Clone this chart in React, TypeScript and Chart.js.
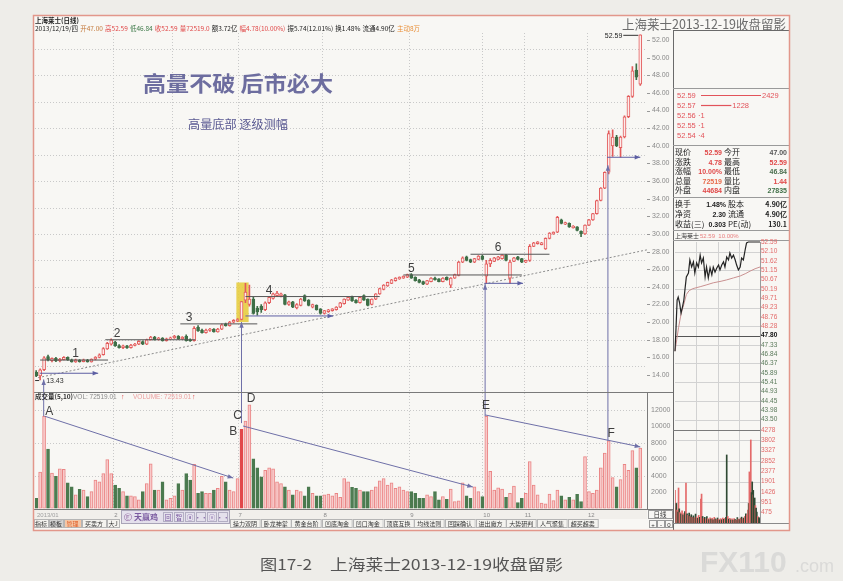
import React, { useEffect, useRef } from 'react';
import { Chart, registerables } from 'chart.js';

Chart.register(...registerables);

const CJK = '"Noto Sans CJK SC", "Noto Sans", sans-serif';
const LAT = '"Liberation Sans", Arial, sans-serif';

// ---------------- daily candles (Shanghai RAAS) ----------------
const openP = [
  14.30, 13.90, 14.60, 16.10, 15.62, 15.90, 15.60, 15.75, 16.00, 15.72,
  15.50, 15.70, 15.52, 15.70, 15.50, 15.80, 16.00, 16.30, 16.95, 17.50,
  17.75, 17.35, 17.10, 17.30, 17.10, 17.35, 17.50, 17.80, 17.50, 18.00,
  18.30, 18.00, 18.20, 17.90, 18.10, 18.20, 18.40, 18.10, 18.40, 18.00,
  17.90, 19.40, 19.10, 18.80, 19.05, 19.20, 18.90, 19.20, 19.80, 19.60,
  20.00, 20.15, 20.30, 22.50, 22.00, 22.60, 21.60, 21.80, 21.40, 22.20,
  22.70, 23.00, 23.00, 23.10, 22.00, 22.30, 21.60, 21.90, 23.00, 22.50,
  21.70, 21.90, 21.50, 21.00, 21.20, 21.30, 21.40, 21.70, 22.10, 22.50,
  22.90, 22.50, 22.20, 23.00, 22.60, 22.00, 22.60, 23.20, 23.70, 24.10,
  24.40, 24.70, 24.90, 25.00, 25.10, 25.40, 25.10, 24.80, 24.60, 24.30,
  24.60, 25.00, 24.90, 24.60, 25.10, 24.20, 25.00, 25.30, 26.80, 27.40,
  27.10, 26.80, 27.10, 27.50, 25.20, 26.60, 26.90, 27.10, 27.20, 27.60,
  25.00, 26.90, 27.40, 27.20, 26.80, 27.00, 28.60, 28.90, 28.80, 28.30,
  29.50, 30.00, 30.20, 31.60, 31.10, 31.20, 30.70, 30.80, 30.30, 30.00,
  31.00, 31.60, 32.30, 33.80, 35.20, 37.00, 40.00, 41.00, 39.80, 41.00,
  43.30, 45.60, 48.60, 47.00,
];
const highP = [
  14.50, 14.70, 16.10, 16.25, 15.95, 16.00, 15.90, 16.10, 16.05, 15.80,
  15.80, 15.75, 15.80, 15.78, 15.85, 16.10, 16.40, 17.10, 17.70, 18.10,
  17.85, 17.45, 17.40, 17.38, 17.48, 17.60, 17.90, 17.88, 18.08, 18.40,
  18.38, 18.28, 18.25, 18.20, 18.30, 18.50, 18.48, 18.35, 18.55, 18.10,
  19.50, 19.60, 19.20, 19.20, 19.30, 19.28, 19.30, 19.80, 19.90, 20.10,
  20.30, 20.40, 22.33, 24.40, 24.20, 22.80, 21.80, 22.00, 22.30, 22.90,
  23.30, 23.50, 23.30, 23.15, 22.40, 22.35, 22.10, 22.70, 23.10, 22.55,
  22.05, 21.95, 21.55, 21.35, 21.45, 21.55, 21.75, 22.25, 22.65, 22.85,
  22.95, 22.55, 22.85, 23.10, 22.65, 22.65, 23.25, 23.85, 24.25, 24.55,
  24.85, 25.05, 25.15, 25.25, 25.45, 25.50, 25.15, 24.85, 24.65, 24.75,
  25.05, 25.10, 24.95, 25.05, 25.15, 25.05, 25.45, 26.90, 27.40, 27.50,
  27.15, 27.25, 27.55, 27.60, 27.00, 27.20, 27.35, 27.45, 27.65, 27.70,
  27.05, 27.35, 27.45, 27.25, 27.05, 28.80, 29.05, 29.15, 29.05, 29.55,
  30.15, 30.25, 32.00, 31.70, 31.35, 31.25, 30.95, 30.85, 30.35, 31.05,
  31.65, 32.35, 33.85, 35.25, 37.05, 41.70, 41.80, 41.20, 41.10, 43.40,
  45.70, 49.00, 49.30, 52.59,
];
const lowP = [
  13.80, 13.43, 14.50, 15.60, 15.50, 15.52, 15.50, 15.70, 15.65, 15.45,
  15.42, 15.45, 15.48, 15.45, 15.45, 15.72, 15.95, 16.25, 16.90, 17.40,
  17.25, 17.05, 17.00, 17.02, 17.05, 17.30, 17.45, 17.45, 17.45, 17.95,
  17.95, 17.95, 17.85, 17.85, 18.05, 18.15, 18.05, 18.05, 17.85, 17.80,
  17.85, 18.95, 18.75, 18.75, 18.95, 18.85, 18.85, 19.15, 19.55, 19.55,
  19.90, 20.05, 20.25, 22.20, 21.80, 20.90, 20.80, 21.10, 21.30, 22.10,
  22.60, 22.90, 22.85, 21.95, 21.90, 21.65, 21.50, 21.85, 22.35, 21.85,
  21.60, 21.35, 20.90, 20.90, 21.10, 21.25, 21.35, 21.65, 22.05, 22.45,
  22.35, 22.15, 22.15, 22.45, 21.85, 21.95, 22.55, 23.15, 23.65, 24.05,
  24.35, 24.65, 24.85, 24.95, 25.05, 24.95, 24.65, 24.45, 24.25, 24.25,
  24.55, 24.75, 24.55, 24.55, 24.75, 23.90, 24.95, 25.25, 26.75, 26.95,
  26.75, 26.75, 27.05, 27.05, 24.40, 26.30, 26.85, 27.05, 27.15, 26.95,
  24.40, 26.85, 27.05, 26.75, 26.75, 26.90, 28.55, 28.85, 28.75, 28.25,
  29.45, 29.95, 30.15, 31.15, 31.05, 30.75, 30.65, 30.35, 29.70, 29.95,
  30.95, 31.55, 32.25, 33.75, 35.15, 36.80, 38.80, 39.90, 38.70, 40.90,
  43.20, 45.50, 47.50, 46.84,
];
const closeP = [
  13.90, 14.60, 15.95, 15.70, 15.88, 15.60, 15.80, 16.00, 15.70, 15.50,
  15.72, 15.52, 15.72, 15.50, 15.80, 16.02, 16.30, 17.00, 17.60, 17.95,
  17.30, 17.10, 17.32, 17.08, 17.40, 17.52, 17.82, 17.50, 18.00, 18.30,
  18.00, 18.20, 17.90, 18.10, 18.22, 18.42, 18.10, 18.30, 17.90, 17.88,
  19.30, 19.00, 18.80, 19.10, 19.22, 18.90, 19.20, 19.70, 19.60, 20.00,
  20.20, 20.30, 22.33, 23.40, 22.60, 21.00, 21.15, 21.40, 22.20, 22.80,
  23.20, 23.30, 23.20, 22.00, 22.30, 21.70, 22.00, 22.60, 22.40, 21.90,
  22.00, 21.40, 21.00, 21.30, 21.40, 21.50, 21.70, 22.20, 22.60, 22.80,
  22.40, 22.20, 22.80, 22.50, 21.90, 22.60, 23.20, 23.80, 24.20, 24.50,
  24.80, 25.00, 25.10, 25.20, 25.40, 25.00, 24.70, 24.50, 24.30, 24.70,
  25.00, 24.80, 24.60, 25.00, 24.80, 25.00, 25.40, 26.80, 27.30, 27.00,
  26.80, 27.20, 27.50, 27.10, 26.60, 27.00, 27.30, 27.40, 27.60, 27.00,
  26.80, 27.30, 27.10, 26.80, 27.00, 28.60, 29.00, 29.10, 29.00, 29.50,
  30.10, 30.20, 31.90, 31.20, 31.30, 30.80, 30.90, 30.40, 30.00, 31.00,
  31.60, 32.30, 33.80, 35.20, 37.00, 41.40, 41.00, 40.00, 41.00, 43.30,
  45.60, 48.50, 47.80, 52.59,
];
// volume in units of 10 lots (as on the axis)
const volume = [
  1240, 4440, 11240, 7240, 4320, 3920, 4840, 4760, 3120, 2640,
  1640, 2320, 2240, 1440, 2040, 3440, 3240, 4240, 5960, 4240,
  2840, 2440, 2040, 1520, 1520, 1440, 1040, 2040, 3040, 5440,
  2240, 2240, 3240, 1040, 1240, 1520, 3040, 2240, 4240, 3440,
  5360, 1840, 2040, 1840, 1840, 2240, 2440, 3920, 3240, 2240,
  2040, 3640, 9640, 10640, 12640, 6040, 4960, 3840, 4640, 4960,
  4840, 3240, 3040, 2640, 2240, 1640, 2240, 2040, 1520, 2640,
  1840, 1520, 1520, 1640, 1760, 1520, 1840, 1360, 3640, 3240,
  2560, 2440, 2240, 2040, 2040, 2240, 2640, 3360, 3640, 2840,
  3120, 2440, 2640, 2240, 2040, 2040, 1840, 1240, 1240, 1640,
  1440, 2040, 1040, 1440, 1120, 2360, 840, 920, 3120, 1520,
  1240, 2640, 2040, 1440, 11240, 4520, 2240, 2520, 2360, 1360,
  1840, 2720, 720, 1240, 1840, 5720, 2840, 1640, 640, 560,
  1760, 960, 2240, 1520, 1040, 1360, 1040, 1720, 840, 6320,
  2040, 1840, 2240, 4960, 6760, 8240, 3760, 2640, 3520, 5360,
  4640, 7040, 4960, 7360,
];
const solidVolumeIdx = [52];

const priceTicks = [52, 50, 48, 46, 44, 42, 40, 38, 36, 34, 32, 30, 28, 26, 24, 22, 20, 18, 16, 14];
const priceGrid = [51, 48, 45, 42, 39, 36, 33, 30, 27, 24, 21, 18, 15];
const volTicks = [12000, 10000, 8000, 6000, 4000, 2000];
const volGrid = [12000, 8000, 4000];
const monthIdx = [19.5, 34.5, 51, 72.5, 94.5, 113, 123.5, 139.5];
const monthLabels = ['2', '', '7', '8', '9', '10', '11', '12'];

// annotations (in data units)
const trendIdx = [0.5, 154.7];
const trendPrice = [13.7, 28.2];
const levelLabels = ['1', '2', '3', '4', '5', '6'];
const levelFrom = [1, 17.5, 36.5, 53, 93, 110];
const levelTo = [18.2, 40.3, 56, 87, 123, 130];
const levelPrice = [15.7, 18.0, 19.8, 22.9, 25.35, 27.7];
const levelLabelIdx = [10, 20.5, 38.7, 59, 95, 117];
const supFrom = [1, 53, 113.5, 144.6];
const supTo = [15.7, 75.2, 123.3, 153];
const supPrice = [14.2, 20.7, 24.4, 38.7];
const riseIdx = [1.9, 52, 113.7, 144.8];
const riseVol = [11240, 10400, 11240, 8240];
const risePrice = [13.5, 20.0, 24.3, 37.8];
const vArrowFromIdx = [2.2, 52.4, 113.7];
const vArrowFromVol = [11240, 10048, 11400];
const vArrowToIdx = [49.9, 110.6, 153];
const vArrowToVol = [3707, 2610, 7500];
const volLetters = ['A', 'B', 'C', 'D', 'E', 'F'];
const volLetterIdx = [3.3, 49.9, 51, 54.4, 113.9, 145.6];
const volLetterVol = [11756, 9317, 11268, 13340, 12490, 9073];
const boxIdx = [50.7, 53.8];
const boxPrice = [20.0, 24.5];

// ---------------- intraday 2013-12-19 ----------------
const dayT = [0, 3, 6, 9, 13, 17, 21, 25, 28, 32, 38, 42, 47, 52, 56, 61, 66, 71, 75, 80,
  85, 89, 94, 99, 104, 108, 113, 118, 123, 127, 132, 137, 141, 146, 151, 155, 160, 165, 170, 174,
  179, 184, 188, 193, 198, 202, 207, 220, 240];
const dayP = [47.00, 48.24, 49.62, 49.77, 49.47, 48.95, 49.26, 49.62, 50.13, 50.80,
  51.00, 51.67, 51.31, 51.57, 51.00, 51.52, 51.31, 51.92, 51.52, 51.77,
  50.80, 51.31, 50.75, 51.26, 50.90, 51.31, 51.05, 51.26, 51.41, 51.16,
  51.41, 51.57, 51.31, 51.82, 51.67, 52.03, 51.77, 51.92, 51.67, 51.41,
  51.16, 51.31, 51.77, 51.67, 52.18, 52.54, 52.59, 52.59, 52.59];
const avgT = [0, 5, 10, 15, 20, 25, 32, 40, 50, 71, 90, 108, 130, 146, 165, 184, 200, 212, 226, 240];
const avgP = [47.0, 47.6, 48.2, 48.7, 49.1, 49.4, 49.9, 50.1, 50.2, 50.3, 50.4, 50.5, 50.58, 50.65, 50.75, 50.85, 50.98, 51.1, 51.22, 51.31];
const dayVolT = [0, 2, 4, 6, 8, 10, 12, 14, 17, 20, 23, 26, 28, 31, 34, 37, 40, 43, 46, 49,
  52, 55, 58, 61, 64, 67, 70, 73, 75, 78, 81, 84, 87, 90, 93, 96, 99, 102, 105, 108,
  111, 114, 117, 120, 123, 126, 129, 132, 135, 138, 141, 144, 146, 149, 152, 155, 158, 161, 164, 167,
  170, 173, 176, 179, 182, 185, 188, 191, 194, 197, 200, 203, 206, 208, 210, 212, 214, 216, 218, 220,
  221, 223, 225, 227, 229, 231, 234, 237, 239];
const dayVol = [1500, 700, 900, 600, 500, 1610, 650, 480, 420, 560, 380, 450, 520, 1840, 420, 350, 460, 300, 380, 260,
  330, 240, 410, 280, 220, 350, 260, 1100, 1330, 300, 220, 260, 180, 300, 200, 160, 240, 180, 220, 150,
  260, 190, 160, 230, 180, 140, 200, 150, 230, 170, 210, 260, 3130, 300, 180, 220, 150, 190, 140, 200,
  160, 130, 250, 180, 160, 220, 270, 190, 230, 300, 420, 380, 600, 900, 2350, 1200, 3820, 1400, 1890, 1300,
  1500, 900, 1150, 800, 690, 500, 300, 250, 200];
const dayVolUp = [1, 1, 0, 1, 0, 1, 0, 1, 0, 1, 0, 1, 0, 1, 0, 1, 0, 1, 0, 1,
  0, 1, 0, 1, 0, 1, 0, 1, 1, 0, 1, 0, 1, 0, 1, 0, 1, 0, 1, 0,
  1, 0, 1, 0, 1, 0, 1, 0, 1, 0, 1, 0, 0, 1, 0, 1, 0, 1, 0, 1,
  0, 1, 0, 1, 0, 1, 0, 1, 0, 1, 0, 1, 1, 0, 1, 1, 1, 0, 0, 1,
  0, 0, 0, 1, 0, 0, 1, 0, 0];
const dayPriceLabels = ['52.59', '52.10', '51.62', '51.15', '50.67', '50.19', '49.71', '49.23', '48.76', '48.28',
  '47.80', '47.33', '46.84', '46.37', '45.89', '45.41', '44.93', '44.45', '43.98', '43.50'];
const dayVolLabels = ['4278', '3802', '3327', '2852', '2377', '1901', '1426', '951', '475'];
const prevClose = 47.80;

// quote panel
const bookPrice = ['52.59', '52.57', '52.56', '52.55', '52.54'];
const bookQty = [2429, 1228, 1, 1, 4];

// ---------------- helpers ----------------
function line(ctx: any, x1: number, y1: number, x2: number, y2: number) {
  ctx.beginPath(); ctx.moveTo(x1, y1); ctx.lineTo(x2, y2); ctx.stroke();
}
function arrow(ctx: any, x1: number, y1: number, x2: number, y2: number, color: string, head = 5) {
  ctx.strokeStyle = color; ctx.fillStyle = color; ctx.lineWidth = 1;
  line(ctx, x1, y1, x2, y2);
  const a = Math.atan2(y2 - y1, x2 - x1);
  ctx.beginPath();
  ctx.moveTo(x2, y2);
  ctx.lineTo(x2 - head * Math.cos(a - 0.38), y2 - head * Math.sin(a - 0.38));
  ctx.lineTo(x2 - head * Math.cos(a + 0.38), y2 - head * Math.sin(a + 0.38));
  ctx.closePath(); ctx.fill();
}
function txt(ctx: any, s: string, x: number, y: number, font: string, color: string, align = 'left', base = 'alphabetic') {
  ctx.font = font; ctx.fillStyle = color; ctx.textAlign = align; ctx.textBaseline = base;
  ctx.fillText(s, x, y);
}
function fitText(ctx: any, s: string, x: number, y: number, w: number, font: string, color: string) {
  ctx.font = font; ctx.fillStyle = color; ctx.textAlign = 'left'; ctx.textBaseline = 'alphabetic';
  const m = ctx.measureText(s).width;
  ctx.save(); ctx.translate(x, y); ctx.scale(w / m, 1); ctx.fillText(s, 0, 0); ctx.restore();
}

const idx = openP.map((_, i) => i);
const isUp = idx.map((i) => closeP[i] >= openP[i]);
const UP = '#e35b5b';
const DOWN = '#3e6f47';

const mainDecor = {
  id: 'mainDecor',
  beforeDraw(chart: any) {
    const ctx = chart.ctx;
    const xs = chart.scales.x, ys = chart.scales.y, yv = chart.scales.yv;
    ctx.save();
    ctx.fillStyle = '#eeede9'; ctx.fillRect(0, 0, 843, 581);
    ctx.fillStyle = '#f8f7f4'; ctx.fillRect(33, 15, 756, 515);
    ctx.lineWidth = 1; ctx.strokeStyle = '#c9c9c9'; ctx.setLineDash([1, 2]);
    priceGrid.forEach((p) => { const y = Math.round(ys.getPixelForValue(p)) + 0.5; line(ctx, 35, y, 647, y); });
    volGrid.forEach((v) => { const y = Math.round(yv.getPixelForValue(v)) + 0.5; line(ctx, 35, y, 647, y); });
    monthIdx.forEach((m) => { const x = Math.round(xs.getPixelForValue(m)) + 0.5; line(ctx, x, 33, x, 509); });
    ctx.setLineDash([]);
    // highlighted breakout box
    const bx0 = xs.getPixelForValue(boxIdx[0]), bx1 = xs.getPixelForValue(boxIdx[1]);
    const by0 = ys.getPixelForValue(boxPrice[1]), by1 = ys.getPixelForValue(boxPrice[0]);
    ctx.fillStyle = 'rgba(230, 205, 60, 0.88)';
    ctx.fillRect(bx0, by0, bx1 - bx0, by1 - by0);
    ctx.restore();
  },
  afterDatasetsDraw(chart: any) {
    const ctx = chart.ctx;
    const xs = chart.scales.x, ys = chart.scales.y, yv = chart.scales.yv;
    ctx.save();
    const BLUE = '#5d5fa3';
    supPrice.forEach((p, k) => {
      const y = ys.getPixelForValue(p);
      arrow(ctx, xs.getPixelForValue(supFrom[k]), y, xs.getPixelForValue(supTo[k]), y, BLUE, 6);
    });
    riseIdx.forEach((ix, k) => {
      const x = xs.getPixelForValue(ix);
      arrow(ctx, x, yv.getPixelForValue(riseVol[k]), x, ys.getPixelForValue(risePrice[k]), '#6f70a8', 6);
    });
    vArrowFromIdx.forEach((ix, k) => {
      arrow(ctx, xs.getPixelForValue(ix), yv.getPixelForValue(vArrowFromVol[k]),
        xs.getPixelForValue(vArrowToIdx[k]), yv.getPixelForValue(vArrowToVol[k]), '#6f70a8', 6);
    });
    levelLabels.forEach((s, k) => {
      txt(ctx, s, xs.getPixelForValue(levelLabelIdx[k]), ys.getPixelForValue(levelPrice[k]) - 3, `12px ${LAT}`, '#3f3f3f', 'center');
    });
    volLetters.forEach((s, k) => {
      txt(ctx, s, xs.getPixelForValue(volLetterIdx[k]), yv.getPixelForValue(volLetterVol[k]), `12px ${LAT}`, '#3f3f3f', 'center', 'middle');
    });
    const lastI = idx.length - 1;
    let lowI = 0; lowP.forEach((v, i) => { if (v < lowP[lowI]) lowI = i; });
    const hx = xs.getPixelForValue(lastI), hy = ys.getPixelForValue(highP[lastI]);
    ctx.strokeStyle = '#333'; ctx.lineWidth = 1;
    line(ctx, hx - 17, hy + 0.5, hx - 2, hy + 0.5);
    txt(ctx, highP[lastI].toFixed(2), hx - 18, hy + 3, `7px ${LAT}`, '#222', 'right');
    const lx = xs.getPixelForValue(lowI), ly = ys.getPixelForValue(lowP[lowI]);
    line(ctx, lx - 5, ly + 0.5, lx - 1, ly + 0.5);
    txt(ctx, lowP[lowI].toFixed(2), lx + 6, ly + 3, `7px ${LAT}`, '#333', 'left');
    ctx.restore();
  },
  afterDraw(chart: any) {
    const ctx = chart.ctx;
    const xs = chart.scales.x, ys = chart.scales.y, yv = chart.scales.yv;
    ctx.save();
    ctx.lineWidth = 1;
    ctx.strokeStyle = '#7a7a7a';
    line(ctx, 33, 392.5, 673, 392.5);
    line(ctx, 647.5, 392, 647.5, 509);
    line(ctx, 33, 509.5, 673, 509.5);
    priceTicks.forEach((p) => {
      const y = ys.getPixelForValue(p);
      ctx.strokeStyle = '#999'; line(ctx, 647, Math.round(y) + 0.5, 650, Math.round(y) + 0.5);
      txt(ctx, p.toFixed(2), 652, y, `7px ${LAT}`, '#8a8a8a', 'left', 'middle');
    });
    volTicks.forEach((v) => {
      txt(ctx, String(v), 651, yv.getPixelForValue(v), `7px ${LAT}`, '#8a8a8a', 'left', 'middle');
    });
    txt(ctx, '上海莱士(日线)', 35, 23, `bold 6.5px ${CJK}`, '#222');
    const seg = [
      ['2013/12/19/四', '#222'], ['开47.00', '#c47a3c'], ['高52.59', '#e04848'], ['低46.84', '#3f7a4a'],
      ['收52.59', '#e04848'], ['量72519.0', '#e04848'], ['额3.72亿', '#222'], ['幅4.78(10.00%)', '#e04848'],
      ['振5.74(12.01%)', '#222'], ['换1.48%', '#222'], ['流通4.90亿', '#222'], ['主动8万', '#e8903a'],
    ];
    ctx.font = `6.5px ${CJK}`;
    const ws = seg.map((s) => ctx.measureText(s[0]).width);
    const tot = ws.reduce((a, b) => a + b, 0);
    const gap = Math.max(1, (385 - tot) / (seg.length - 1));
    let hxp = 35;
    seg.forEach((s, k) => { txt(ctx, s[0], hxp, 31, `6.5px ${CJK}`, s[1]); hxp += ws[k] + gap; });
    fitText(ctx, '高量不破 后市必大', 143, 91, 190, `bold 21px ${CJK}`, '#6d6d9f');
    fitText(ctx, '高量底部 逐级测幅', 188, 129, 100, `12px ${CJK}`, '#5a5a92');
    txt(ctx, '成交量(5,10)', 35, 399, `bold 6.5px ${CJK}`, '#333');
    txt(ctx, 'VOL: 72519.01', 73, 399, `6.5px ${LAT}`, '#8a8a8a');
    txt(ctx, '↑', 121, 399, `7px ${LAT}`, '#e04848');
    txt(ctx, 'VOLUME: 72519.01', 133, 399, `6.5px ${LAT}`, '#eba0a0');
    txt(ctx, '↑', 192, 399, `7px ${LAT}`, '#e04848');

    // ---- bottom tab bar ----
    ctx.fillStyle = '#f1efeb'; ctx.fillRect(34, 510, 613, 9);
    txt(ctx, '2013/01', 37, 517, `6px ${LAT}`, '#a0a0a0');
    monthIdx.forEach((m, k) => {
      if (monthLabels[k]) txt(ctx, monthLabels[k], xs.getPixelForValue(m) + 1, 517, `6px ${LAT}`, '#8a8a8a');
    });
    const leftTabs = [['指标', 34, 14, '#f4f3ef', '#333'], ['模板', 49, 14, '#d2d2d2', '#333'], ['管理', 64, 17, '#f5c7a6', '#e0602a'],
      ['买卖方', 82, 24, '#f4f3ef', '#333'], ['大J', 107, 12, '#f4f3ef', '#333']];
    leftTabs.forEach((t: any) => {
      ctx.fillStyle = t[3]; ctx.fillRect(t[1], 520, t[2], 7);
      ctx.strokeStyle = '#b5b5b5'; ctx.strokeRect(t[1] + 0.5, 519.5, t[2], 8);
      txt(ctx, t[0], t[1] + t[2] / 2, 526, `6px ${CJK}`, t[4], 'center');
    });
    ctx.fillStyle = '#e4e0ec'; ctx.fillRect(121, 510, 108, 13);
    ctx.strokeStyle = '#a9a4b8'; ctx.strokeRect(121.5, 510.5, 108, 13);
    txt(ctx, 'Ⓔ', 124, 520, `8px ${LAT}`, '#8a5a9a');
    txt(ctx, '天赢鸡', 134, 520, `bold 8px ${CJK}`, '#7a5aa0');
    ['回', '智', 'ⓐ', '··', 'ⓥ', '··'].forEach((s, k) => {
      const bx = 163 + k * 11;
      ctx.strokeStyle = '#b3aec3'; ctx.strokeRect(bx + 0.5, 512.5, 9, 9);
      txt(ctx, s, bx + 5, 520, `6.5px ${CJK}`, '#7a5aa0', 'center');
    });
    const rightTabs = ['操力双阴', '卧龙神掌', '黄金台阶', '凹底淘金', '凹口淘金', '顶底互换', '均线法则', '回踩确认', '进出魔方', '大势研判', '人气聚集', '超买超卖'];
    rightTabs.forEach((s, k) => {
      const x0 = 230 + k * 30.7;
      ctx.fillStyle = '#f4f3ef'; ctx.fillRect(x0, 520, 29.7, 7);
      ctx.strokeStyle = '#b5b5b5'; ctx.strokeRect(Math.round(x0) + 0.5, 519.5, 29.7, 8);
      txt(ctx, s, x0 + 15, 526, `6px ${CJK}`, '#333', 'center');
    });
    ctx.strokeStyle = '#9a9a9a';
    ctx.strokeRect(648.5, 510.5, 24, 8);
    txt(ctx, '日线', 660, 517, `6.5px ${CJK}`, '#333', 'center');
    ['+', '-', '0'].forEach((s, k) => {
      ctx.strokeRect(649.5 + k * 8, 520.5, 7, 7);
      txt(ctx, s, 653 + k * 8, 526.5, `6px ${LAT}`, '#333', 'center');
    });

    // ---- right panel ----
    fitText(ctx, '上海莱士2013-12-19收盘留影', 622, 29, 164, `13px ${CJK}`, '#6c6c6c');
    ctx.strokeStyle = '#6a6a6a';
    line(ctx, 673.5, 30, 673.5, 530);
    line(ctx, 673, 30.5, 789, 30.5);
    ctx.strokeStyle = '#9a9a9a';
    line(ctx, 673, 88.5, 789, 88.5);
    line(ctx, 673, 145.5, 789, 145.5);
    line(ctx, 673, 197.5, 789, 197.5);
    line(ctx, 673, 230.5, 789, 230.5);
    line(ctx, 673, 240.5, 789, 240.5);
    bookPrice.forEach((p, k) => {
      const y = 98 + k * 10;
      txt(ctx, p, 677, y, `7.5px ${LAT}`, '#e2535a');
      if (bookQty[k] > 10) {
        const len = (bookQty[k] / bookQty[0]) * 60;
        ctx.strokeStyle = '#e2535a'; ctx.lineWidth = 1.2;
        line(ctx, 701, y - 2.5, 701 + len, y - 2.5);
        ctx.lineWidth = 1;
        txt(ctx, String(bookQty[k]), 702 + len, y, `7.5px ${LAT}`, '#e2535a');
      } else {
        txt(ctx, '·' + bookQty[k], 698, y, `7.5px ${LAT}`, '#e2535a');
      }
    });
    const q1 = [
      ['现价', '52.59', '#e04848', '今开', '47.00', '#555'],
      ['涨跌', '4.78', '#e04848', '最高', '52.59', '#e04848'],
      ['涨幅', '10.00%', '#e04848', '最低', '46.84', '#4b6f4f'],
      ['总量', '72519', '#e86a4a', '量比', '1.44', '#e04848'],
      ['外盘', '44684', '#e04848', '内盘', '27835', '#3f6f46'],
    ];
    q1.forEach((r, k) => {
      const y = 155 + k * 9.6;
      txt(ctx, r[0], 675, y, `8px ${CJK}`, '#222');
      txt(ctx, r[1], 722, y, `bold 7px ${LAT}`, r[2], 'right');
      txt(ctx, r[3], 724, y, `8px ${CJK}`, '#222');
      txt(ctx, r[4], 787, y, `bold 7px ${LAT}`, r[5], 'right');
    });
    const q2 = [
      ['换手', '1.48%', '股本', '4.90亿'],
      ['净资', '2.30', '流通', '4.90亿'],
      ['收益(三)', '0.303', 'PE(动)', '130.1'],
    ];
    q2.forEach((r, k) => {
      const y = 207 + k * 10;
      txt(ctx, r[0], 675, y, `8px ${CJK}`, '#222');
      txt(ctx, r[1], 726, y, `bold 7px ${LAT}`, '#222', 'right');
      txt(ctx, r[2], 728, y, `8px ${CJK}`, '#222');
      txt(ctx, r[3], 787, y, `bold 7px ${CJK}`, '#222', 'right');
    });
    txt(ctx, '上海莱士', 675, 238, `6px ${CJK}`, '#333');
    txt(ctx, '52.59  10.00%', 700, 238, `6px ${LAT}`, '#e88080');
    ctx.strokeStyle = '#8a8a8a';
    line(ctx, 673, 523.5, 789, 523.5);

    fitText(ctx, '图17-2', 260, 570, 52, `15px ${CJK}`, '#555');
    fitText(ctx, '上海莱士2013-12-19收盘留影', 330, 570, 233, `15px ${CJK}`, '#555');
    txt(ctx, 'FX110', 700, 572, `bold 30px ${LAT}`, 'rgba(205,205,205,0.6)');
    txt(ctx, '.com', 795, 572, `18px ${LAT}`, 'rgba(205,205,205,0.6)');

    ctx.strokeStyle = '#e2978b'; ctx.lineWidth = 1.5;
    ctx.strokeRect(33.5, 15.5, 756, 515);
    ctx.restore();
  },
};

const dayDecor = {
  id: 'dayDecor',
  beforeDatasetsDraw(chart: any) {
    const ctx = chart.ctx;
    const xs = chart.scales.x, ys = chart.scales.y, yv = chart.scales.yv;
    const L = xs.getPixelForValue(0), R = xs.getPixelForValue(240);
    const top = ys.getPixelForValue(52.59), bot = yv.getPixelForValue(0);
    ctx.save();
    ctx.lineWidth = 1; ctx.strokeStyle = '#d2d2d2';
    dayPriceLabels.forEach((s, k) => {
      if (k % 2 === 1) { const y = Math.round(ys.getPixelForValue(parseFloat(s))) + 0.5; line(ctx, L, y, R, y); }
    });
    dayVolLabels.forEach((s, k) => {
      if (k % 2 === 1) { const y = Math.round(yv.getPixelForValue(parseFloat(s))) + 0.5; line(ctx, L, y, R, y); }
    });
    [60, 120, 180].forEach((t) => { const x = Math.round(xs.getPixelForValue(t)) + 0.5; line(ctx, x, top, x, bot); });
    ctx.strokeStyle = '#9a9a9a';
    line(ctx, Math.round(R) + 0.5, top, Math.round(R) + 0.5, bot);
    ctx.strokeStyle = '#555';
    const yc = Math.round(ys.getPixelForValue(prevClose)) + 0.5;
    line(ctx, L, yc, R, yc);
    const ysep = Math.round(yv.getPixelForValue(parseFloat(dayVolLabels[0]))) + 0.5;
    ctx.strokeStyle = '#7a7a7a';
    line(ctx, L - 2, ysep, R, ysep);
    ctx.restore();
  },
  afterDraw(chart: any) {
    const ctx = chart.ctx;
    const ys = chart.scales.y, yv = chart.scales.yv;
    ctx.save();
    dayPriceLabels.forEach((s) => {
      const v = parseFloat(s);
      const c = v > prevClose ? '#e36a6a' : v < prevClose ? '#5b7a5b' : '#111';
      txt(ctx, s, 761, ys.getPixelForValue(v), `${v === prevClose ? 'bold ' : ''}6.5px ${LAT}`, c, 'left', 'middle');
    });
    dayVolLabels.forEach((s) => {
      txt(ctx, s, 761, yv.getPixelForValue(parseFloat(s)), `6.5px ${LAT}`, '#e36a6a', 'left', 'middle');
    });
    ctx.restore();
  },
};

export default function App() {
  const mainRef = useRef<HTMLCanvasElement>(null);
  const dayRef = useRef<HTMLCanvasElement>(null);

  useEffect(() => {
    const candleBodies = idx.map((i) => ({ x: i, y: [Math.min(openP[i], closeP[i]), Math.max(openP[i], closeP[i])] }));
    const wicks = idx.map((i) => ({ x: i, y: [lowP[i], highP[i]] }));
    const vols = idx.map((i) => ({ x: i, y: volume[i] }));
    const levelSets = levelPrice.map((p, k) => ({
      type: 'line',
      data: [{ x: levelFrom[k], y: p }, { x: levelTo[k], y: p }],
      borderColor: '#555',
      borderWidth: 1,
      pointRadius: 0,
      yAxisID: 'y',
      order: -1,
    }));

    const main = new Chart(mainRef.current as any, {
      type: 'bar',
      data: {
        datasets: [
          {
            type: 'bar', data: candleBodies as any, yAxisID: 'y', order: 0, grouped: false,
            barThickness: 3, borderWidth: 1, borderSkipped: false,
            backgroundColor: idx.map((i) => (isUp[i] ? '#fdeceb' : DOWN)),
            borderColor: idx.map((i) => (isUp[i] ? UP : DOWN)),
          },
          {
            type: 'bar', data: wicks as any, yAxisID: 'y', order: 1, grouped: false,
            barThickness: 1, borderWidth: 0,
            backgroundColor: idx.map((i) => (isUp[i] ? UP : DOWN)),
          },
          {
            type: 'bar', data: vols as any, yAxisID: 'yv', order: 2, grouped: false,
            barThickness: 3, borderWidth: 1, borderSkipped: false,
            backgroundColor: idx.map((i) => (solidVolumeIdx.includes(i) ? '#e2484a' : isUp[i] ? '#f8caca' : '#4b7a4f')),
            borderColor: idx.map((i) => (solidVolumeIdx.includes(i) ? '#e2484a' : isUp[i] ? '#ea8585' : '#4b7a4f')),
          },
          {
            type: 'line', data: [{ x: trendIdx[0], y: trendPrice[0] }, { x: trendIdx[1], y: trendPrice[1] }],
            borderColor: '#8c8c8c', borderWidth: 1, borderDash: [2, 2], pointRadius: 0, yAxisID: 'y', order: 3,
          },
          ...levelSets,
        ] as any,
      },
      options: {
        animation: false,
        responsive: false,
        devicePixelRatio: 1,
        events: [],
        layout: { padding: { left: 35, right: 196, top: 32, bottom: 72.6 } },
        plugins: { legend: { display: false }, tooltip: { enabled: false } },
        scales: {
          x: { type: 'linear', min: -0.3, max: 154.7, display: false, offset: false },
          y: { type: 'linear', min: -1.13, max: 52.91, display: false },
          yv: { type: 'linear', min: 0, max: 58100, display: false },
        },
      } as any,
      plugins: [mainDecor],
    });

    const day = new Chart(dayRef.current as any, {
      type: 'line',
      data: {
        datasets: [
          {
            type: 'line', data: dayT.map((t, k) => ({ x: t, y: dayP[k] })),
            borderColor: '#242424', borderWidth: 1.2, pointRadius: 0, yAxisID: 'y', clip: 4, order: 0,
          },
          {
            type: 'line', data: avgT.map((t, k) => ({ x: t, y: avgP[k] })),
            borderColor: '#c99090', borderWidth: 1, pointRadius: 0, yAxisID: 'y', clip: 4, order: 1,
          },
          {
            type: 'bar', data: dayVolT.map((t, k) => ({ x: t, y: dayVol[k] })), yAxisID: 'yv', grouped: false,
            barThickness: 1, borderWidth: 0, order: 2,
            backgroundColor: dayVolUp.map((u) => (u ? '#e46a6a' : '#2f4a33')),
          },
        ] as any,
      },
      options: {
        animation: false,
        responsive: false,
        devicePixelRatio: 1,
        events: [],
        layout: { padding: { left: 675, right: 83, top: 242, bottom: 58 } },
        plugins: { legend: { display: false }, tooltip: { enabled: false } },
        scales: {
          x: { type: 'linear', min: 0, max: 240, display: false, offset: false },
          y: { type: 'linear', min: 38.2, max: 52.59, display: false },
          yv: { type: 'linear', min: 0, max: 12926, display: false },
        },
      } as any,
      plugins: [dayDecor],
    });

    return () => { main.destroy(); day.destroy(); };
  }, []);

  return (
    <div style={{ position: 'absolute', left: 0, top: 0, width: 843, height: 581, overflow: 'hidden', background: '#eeede9' }}>
      <canvas ref={mainRef} width={843} height={581} style={{ position: 'absolute', left: 0, top: 0, width: 843, height: 581 }} />
      <canvas ref={dayRef} width={843} height={581} style={{ position: 'absolute', left: 0, top: 0, width: 843, height: 581 }} />
    </div>
  );
}
